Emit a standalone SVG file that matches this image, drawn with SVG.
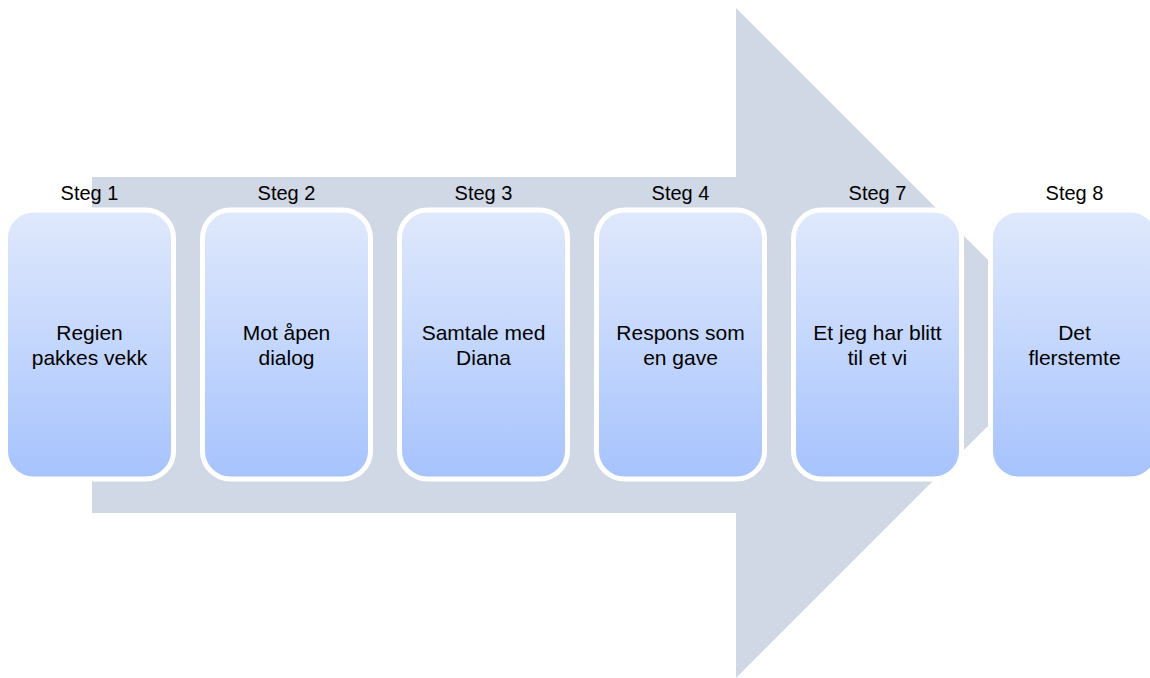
<svg xmlns="http://www.w3.org/2000/svg" width="1150" height="678" viewBox="0 0 1150 678">
  <defs>
    <linearGradient id="boxFill" x1="0" y1="0" x2="0" y2="1">
      <stop offset="0" stop-color="#e0e9fc"/>
      <stop offset="1" stop-color="#a6c3fd"/>
    </linearGradient>
    <style>
      .box { fill: url(#boxFill); stroke: #ffffff; stroke-width: 5; }
      .step { font-family: "Liberation Sans", Arial, sans-serif; font-size: 20px; fill: #000000; text-anchor: middle; }
      .label { font-family: "Liberation Sans", Arial, sans-serif; font-size: 21px; fill: #000000; text-anchor: middle; }
    </style>
  </defs>
  <rect width="1150" height="678" fill="#ffffff"/>

  <!-- background process arrow -->
  <g id="connectors">
    <polygon points="92,177 736,177 736,8 1071,343 736,678 736,513 92,513" fill="#d0d8e6"/>
  </g>

  <g id="step1">
    <text class="step" x="89.5" y="200">Steg 1</text>
    <rect class="box" x="5.5" y="210" width="168" height="269" rx="28"/>
    <text class="label" x="89.5" y="339.5">Regien</text>
    <text class="label" x="89.5" y="365">pakkes vekk</text>
  </g>
  <g id="step2">
    <text class="step" x="286.5" y="200">Steg 2</text>
    <rect class="box" x="202.5" y="210" width="168" height="269" rx="28"/>
    <text class="label" x="286.5" y="339.5">Mot åpen</text>
    <text class="label" x="286.5" y="365">dialog</text>
  </g>
  <g id="step3">
    <text class="step" x="483.5" y="200">Steg 3</text>
    <rect class="box" x="399.5" y="210" width="168" height="269" rx="28"/>
    <text class="label" x="483.5" y="339.5">Samtale med</text>
    <text class="label" x="483.5" y="365">Diana</text>
  </g>
  <g id="step4">
    <text class="step" x="680.5" y="200">Steg 4</text>
    <rect class="box" x="596.5" y="210" width="168" height="269" rx="28"/>
    <text class="label" x="680.5" y="339.5">Respons som</text>
    <text class="label" x="680.5" y="365">en gave</text>
  </g>
  <g id="step7">
    <text class="step" x="877.5" y="200">Steg 7</text>
    <rect class="box" x="793.5" y="210" width="168" height="269" rx="28"/>
    <text class="label" x="877.5" y="339.5">Et jeg har blitt</text>
    <text class="label" x="877.5" y="365">til et vi</text>
  </g>
  <g id="step8">
    <text class="step" x="1074.5" y="200">Steg 8</text>
    <rect class="box" x="990.5" y="210" width="168" height="269" rx="28"/>
    <text class="label" x="1074.5" y="339.5">Det</text>
    <text class="label" x="1074.5" y="365">flerstemte</text>
  </g>
</svg>
